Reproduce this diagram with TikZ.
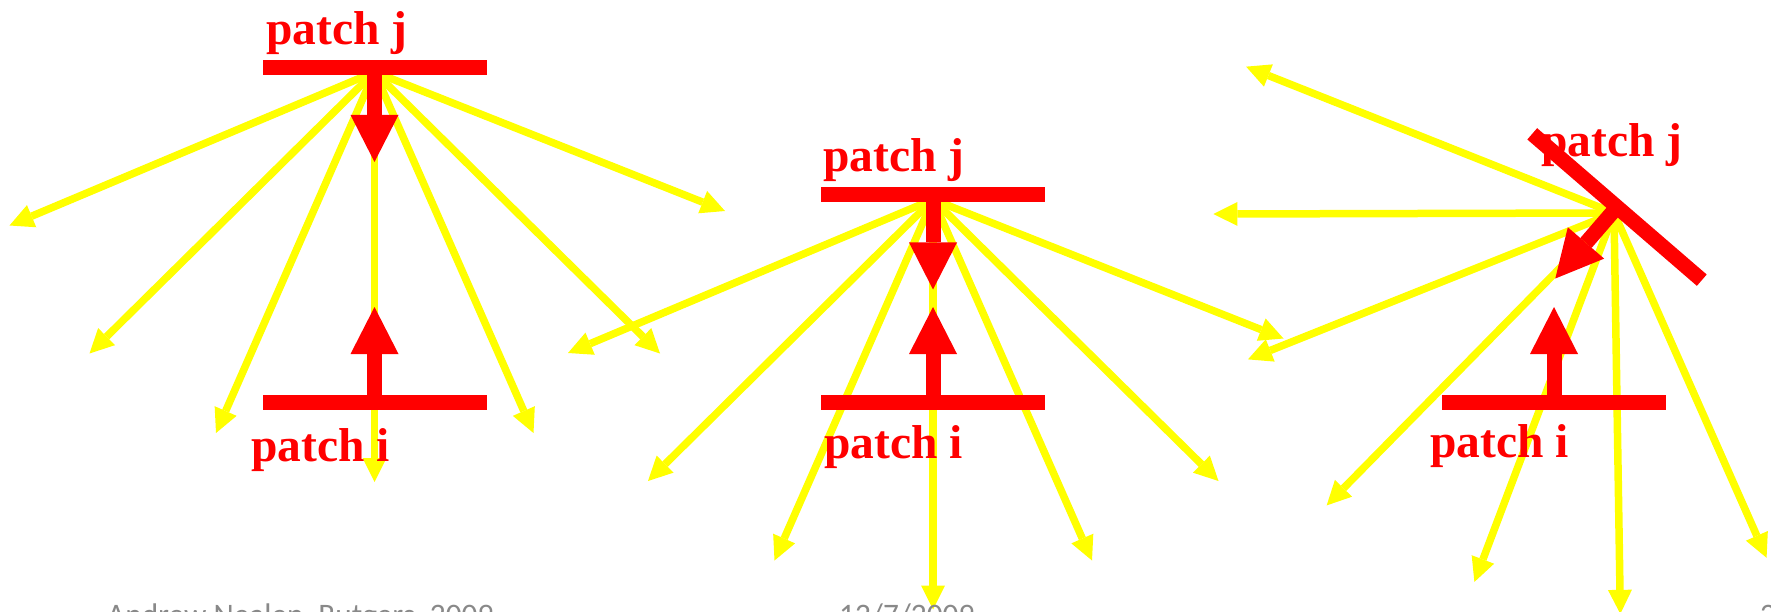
\documentclass[tikz,border=0pt]{standalone}
\usepackage{fontspec}
\setmainfont{Liberation Serif}
\newfontfamily\footfont{Carlito}
\usetikzlibrary{arrows.meta}
\definecolor{ylw}{RGB}{255,255,0}
\definecolor{rd}{RGB}{255,0,0}
\definecolor{footgray}{RGB}{137,137,137}
\begin{document}
\begin{tikzpicture}[x=1pt,y=-1pt,
  fan/.style={draw=ylw, line width=7.5pt, -{Triangle[length=24pt,width=24pt,line width=0pt]}},
  redarr/.style={draw=rd, line width=15pt, -{Triangle[length=47pt,width=48pt,line width=0pt]}},
  patchbar/.style={fill=rd, draw=none, inner sep=0pt, outer sep=0pt, minimum width=224pt, minimum height=15pt},
  lbl/.style={text=rd, font=\fontsize{47.5}{50}\selectfont\bfseries, inner sep=0pt, anchor=base west},
  foot/.style={text=footgray, font=\footfont\fontsize{31.3}{34}\selectfont, inner sep=0pt, anchor=base west}]
\useasboundingbox (0,0) rectangle (1771,612);
\fill[white] (0,0) rectangle (1771,612);
\path[clip] (0,0) rectangle (1771,612);
\def\fanvecs{-365/153.5, -285/281.5, -158.5/361, 0/410, 159/361, 285.5/281.5, 350.5/139}
% ---- yellow fans ----
\begin{scope}[shift={(374.5,72)}]
  \coordinate (o1) at (0,0);
  \foreach \dx/\dy in \fanvecs { \draw[fan] (o1) -- (\dx,\dy); }
\end{scope}
\begin{scope}[shift={(933,199.5)}]
  \coordinate (o2) at (0,0);
  \foreach \dx/\dy in \fanvecs { \draw[fan] (o2) -- (\dx,\dy); }
\end{scope}
\begin{scope}[shift={(1614,213)}, rotate=-44.5]
  \coordinate (o3) at (0,0);
  \foreach \dx/\dy in \fanvecs { \draw[fan] (o3) -- (\dx,\dy); }
\end{scope}
% ---- panel 1 patches ----
\node[patchbar] (j1) at (374.5,67.5) {};
\node[patchbar] (i1) at (374.5,402) {};
\coordinate (j1tip) at (374.5,162);
\coordinate (i1tip) at (374.5,307);
\draw[redarr] (j1.center) -- (j1tip);
\draw[redarr] (i1.center) -- (i1tip);
% ---- panel 2 patches ----
\node[patchbar] (j2) at (933,195) {};
\node[patchbar] (i2) at (933,402) {};
\coordinate (j2tip) at (933,289.5);
\coordinate (i2tip) at (933,307);
\draw[redarr] (j2.center) -- (j2tip);
\draw[redarr] (i2.center) -- (i2tip);
% ---- panel 3 patches ----
\node[patchbar] (i3) at (1554,402) {};
\coordinate (i3tip) at (1554,307);
\draw[redarr] (i3.center) -- (i3tip);
\begin{scope}[shift={(1617,207)}, rotate=-40.8]
  \node[patchbar, rotate=-40.8] (j3) at (0,0) {};
  \coordinate (j3tip) at (0,94.5);
  \draw[redarr] (j3.center) -- (j3tip);
\end{scope}
% ---- labels ----
\node[lbl] (tj1) at (266,45) {patch j};
\node[lbl] (ti1) at (251,461) {patch i};
\node[lbl] (tj2) at (823,172) {patch j};
\node[lbl] (ti2) at (824,458) {patch i};
\node[lbl] (tj3) at (1541,157) {patch j};
\node[lbl] (ti3) at (1430,457) {patch i};
% ---- footer (cut off by the lower edge, as in the reference) ----
\node[foot] (f1) at (107,625) {Andrew Nealen, Rutgers, 2009};
\node[foot] (f2) at (839,625) {12/7/2009};
\node[foot] (f3) at (1760,625) {2};
\end{tikzpicture}
\end{document}
